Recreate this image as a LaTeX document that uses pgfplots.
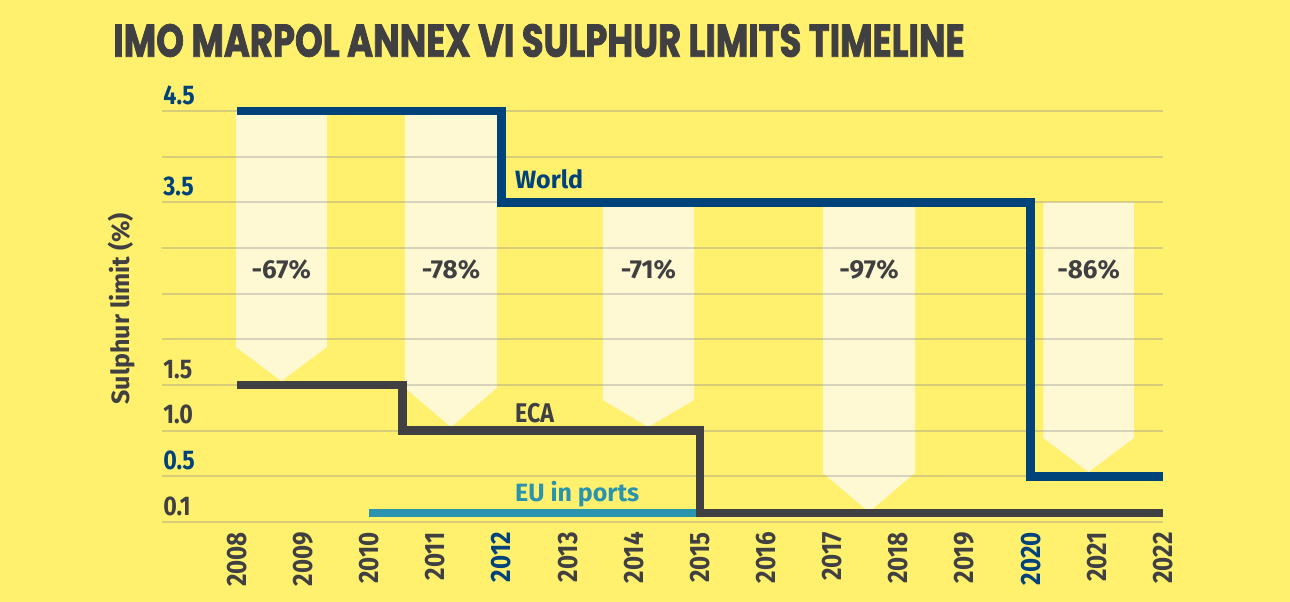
\documentclass[border=0pt]{standalone}
\usepackage{fontspec}
\setmainfont{Fira Sans}
\newfontfamily\titlefont{Poppins}[FakeStretch=0.768,FakeBold=1.6]
\newfontfamily\condfont{Fira Sans}[FakeStretch=0.86]
\usepackage{pgfplots}
\pgfplotsset{compat=1.18}
\definecolor{bgy}{RGB}{255,240,110}
\definecolor{cream}{RGB}{255,249,211}
\definecolor{imoblue}{RGB}{0,66,122}
\definecolor{dg}{RGB}{64,64,66}
\definecolor{teal}{RGB}{42,148,175}
\definecolor{gridc}{RGB}{140,140,140}
\begin{document}
\begin{tikzpicture}
\begin{axis}[
  at={(0pt,0pt)}, anchor=south west,
  scale only axis, width=500.5pt, height=205.5pt,
  xmin=2006.866, xmax=2022, ymin=0, ymax=4.5,
  clip=false, set layers,
  axis line style={draw=none}, tick style={draw=none}, major tick length=0pt,
  xtick={2008,2009,...,2022},
  xticklabels={2008,2009,2010,2011,\textcolor{imoblue}{2012},2013,2014,2015,2016,2017,2018,2019,\textcolor{imoblue}{2020},2021,2022},
  xticklabel style={rotate=90, anchor=east, inner sep=5pt, text=dg, font=\condfont\bfseries\fontsize{14}{14}\selectfont},
  ytick={0,0.5,1,1.5,2,2.5,3,3.5,4,4.5},
  yticklabels={0.1,\textcolor{imoblue}{0.5},1.0,1.5,,,,\textcolor{imoblue}{3.5},,\textcolor{imoblue}{4.5}},
  yticklabel style={anchor=south west, inner xsep=0.5pt, inner ysep=3pt, text=dg, font=\condfont\bfseries\fontsize{13.5}{13.5}\selectfont},
  ymajorgrids, grid style={draw=gridc, draw opacity=0.34, line width=1.1pt},
  ylabel={Sulphur limit (\%)},
  every axis y label/.style={at={(axis description cs:-0.0405,0.519)}, rotate=90, anchor=center, font=\bfseries\fontsize{12.5}{12.5}\selectfont, text=dg},
  title={IMO MARPOL ANNEX VI SULPHUR LIMITS TIMELINE},
  every axis title/.style={at={(axis description cs:-0.049,1.1715)}, anchor=west, inner sep=0pt, font=\titlefont\bfseries\fontsize{23}{23}\selectfont, text=dg},
]
\begin{pgfonlayer}{axis background}
\fill[bgy] (rel axis cs:-0.16184,-0.19465) rectangle (rel axis cs:1.12687,1.27007);
\end{pgfonlayer}
% reduction arrows
\addplot[fill=cream, draw=none, on layer=axis background] coordinates {(2007.985,4.5) (2009.36,4.5) (2009.36,1.916) (2008.67,1.544) (2007.985,1.916)} -- cycle;
\addplot[fill=cream, draw=none, on layer=axis background] coordinates {(2010.54,4.5) (2011.93,4.5) (2011.93,1.467) (2011.235,1.040) (2010.54,1.467)} -- cycle;
\addplot[fill=cream, draw=none, on layer=axis background] coordinates {(2013.53,3.5) (2014.91,3.5) (2014.91,1.336) (2014.22,1.040) (2013.53,1.336)} -- cycle;
\addplot[fill=cream, draw=none, on layer=axis background] coordinates {(2016.86,3.5) (2018.25,3.5) (2018.25,0.537) (2017.555,0.109) (2016.86,0.537)} -- cycle;
\addplot[fill=cream, draw=none, on layer=axis background] coordinates {(2020.19,3.5) (2021.56,3.5) (2021.56,0.920) (2020.875,0.547) (2020.19,0.920)} -- cycle;
% limits
\addplot[const plot, draw=teal, line width=4.25pt] coordinates {(2010,0.1) (2015,0.1)};
\addplot[const plot, draw=dg, line width=4.25pt] coordinates {(2008,1.5) (2010.5,1.0) (2015,0.1) (2022,0.1)};
\addplot[const plot, draw=imoblue, line width=4.25pt] coordinates {(2008,4.5) (2012,3.5) (2020,0.5) (2022,0.5)};
% labels
\node[anchor=west, inner sep=0pt, text=imoblue, font=\bfseries\fontsize{12.5}{12.5}\selectfont] at (axis cs:2012.2,3.755) {World};
\node[anchor=west, inner sep=0pt, text=dg, font=\condfont\bfseries\fontsize{13.5}{13.5}\selectfont] at (axis cs:2012.2,1.19) {ECA};
\node[anchor=west, inner sep=0pt, text=teal, font=\bfseries\fontsize{12.5}{12.5}\selectfont] at (axis cs:2012.2,0.30) {EU in ports};
\node[text=dg, font=\bfseries\fontsize{13}{13}\selectfont] at (axis cs:2008.67,2.76) {-67\%};
\node[text=dg, font=\bfseries\fontsize{13}{13}\selectfont] at (axis cs:2011.235,2.76) {-78\%};
\node[text=dg, font=\bfseries\fontsize{13}{13}\selectfont] at (axis cs:2014.22,2.76) {-71\%};
\node[text=dg, font=\bfseries\fontsize{13}{13}\selectfont] at (axis cs:2017.555,2.76) {-97\%};
\node[text=dg, font=\bfseries\fontsize{13}{13}\selectfont] at (axis cs:2020.875,2.76) {-86\%};
\end{axis}
\end{tikzpicture}
\end{document}
